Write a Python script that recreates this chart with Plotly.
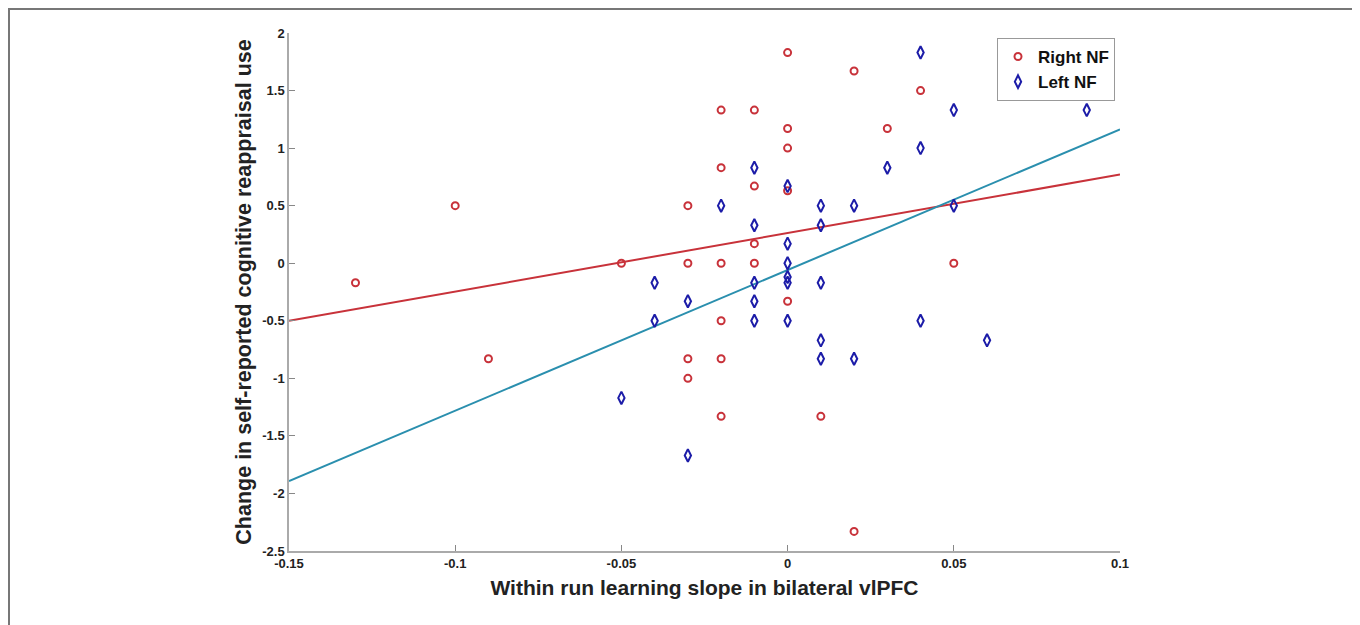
import plotly.graph_objects as go
import numpy as np

# Right NF (red circles)
right_x = [-0.13, -0.10, -0.09, -0.05, -0.03, -0.03, -0.03, -0.03, -0.02, -0.02, -0.02, -0.02, -0.02, -0.02,
           -0.01, -0.01, -0.01, -0.01, 0.00, 0.00, 0.00, 0.00, 0.00, 0.01, 0.02, 0.02, 0.03, 0.04, 0.05]
right_y = [-0.17, 0.50, -0.83, 0.00, 0.50, 0.00, -0.83, -1.00, 1.33, 0.83, 0.00, -0.50, -0.83, -1.33,
           1.33, 0.67, 0.17, 0.00, 1.83, 1.17, 1.00, 0.63, -0.33, -1.33, 1.67, -2.33, 1.17, 1.50, 0.00]

# Left NF (blue diamonds)
left_x = [-0.05, -0.04, -0.04, -0.03, -0.03, -0.02, -0.01, -0.01, -0.01, -0.01, -0.01,
          0.00, 0.00, 0.00, 0.00, 0.00, 0.00, 0.01, 0.01, 0.01, 0.01, 0.01, 0.02, 0.02,
          0.03, 0.04, 0.04, 0.04, 0.05, 0.05, 0.06, 0.09]
left_y = [-1.17, -0.17, -0.50, -0.33, -1.67, 0.50, 0.83, 0.33, -0.17, -0.33, -0.50,
          0.67, 0.17, 0.00, -0.12, -0.17, -0.50, 0.50, 0.33, -0.17, -0.67, -0.83, 0.50, -0.83,
          0.83, 1.83, 1.00, -0.50, 1.33, 0.50, -0.67, 1.33]

# Fitted regression lines (slope, intercept)
right_fit = (5.08, 0.262)
left_fit = (12.22, -0.059)

x_range = [-0.15, 0.1]
y_range = [-2.5, 2]
x_ticks = [-0.15, -0.1, -0.05, 0, 0.05, 0.1]
x_tick_labels = ["-0.15", "-0.1", "-0.05", "0", "0.05", "0.1"]
y_ticks = [-2.5, -2, -1.5, -1, -0.5, 0, 0.5, 1, 1.5, 2]
y_tick_labels = ["-2.5", "-2", "-1.5", "-1", "-0.5", "0", "0.5", "1", "1.5", "2"]

RED = "#c8323a"
BLUE = "#1c1ca8"
TEAL = "#2a8fae"
FONT = "Liberation Sans, Arial, sans-serif"

# page body has an 8px margin: figure is placed at (8, 8)
W, H = 1352, 617
L, T, PW, PH = 281, 25, 831, 518

fx = np.array(x_range)
fig = go.Figure()
fig.add_trace(go.Scatter(x=fx, y=right_fit[0] * fx + right_fit[1], mode="lines",
                         line=dict(color=RED, width=2), showlegend=False, hoverinfo="skip"))
fig.add_trace(go.Scatter(x=fx, y=left_fit[0] * fx + left_fit[1], mode="lines",
                         line=dict(color=TEAL, width=2), showlegend=False, hoverinfo="skip"))
fig.add_trace(go.Scatter(x=right_x, y=right_y, mode="markers", name="Right NF",
                         marker=dict(symbol="circle-open", size=7, color=RED, line=dict(width=2))))
fig.add_trace(go.Scatter(x=left_x, y=left_y, mode="markers", name="Left NF",
                         marker=dict(symbol="diamond-tall-open", size=9, color=BLUE, line=dict(width=2))))

axis_common = dict(showgrid=False, zeroline=False, showline=True, linecolor="#aaaaaa", linewidth=1.5,
                   ticks="inside", ticklen=6, tickcolor="#888888", tickwidth=1,
                   tickfont=dict(family=FONT, size=13, color="#222222", weight="bold"))

fig.update_layout(
    width=W, height=H,
    margin=dict(l=L, r=W - L - PW, t=T, b=H - T - PH),
    paper_bgcolor="white", plot_bgcolor="white",
    xaxis=dict(range=x_range, tickvals=x_ticks, ticktext=x_tick_labels,
               title=dict(text="Within run learning slope in bilateral vlPFC",
                          font=dict(family=FONT, size=21, color="#222222", weight="bold"), standoff=10),
               **axis_common),
    yaxis=dict(range=y_range, tickvals=y_ticks, ticktext=y_tick_labels,
               title=dict(text="Change in self-reported cognitive reappraisal use",
                          font=dict(family=FONT, size=21.5, color="#222222", weight="bold"), standoff=5),
               **axis_common),
    legend=dict(x=(997 - 8 - L) / PW, y=1 - (38 - 8 - T) / PH, xanchor="left", yanchor="top",
                bgcolor="white", bordercolor="#999999", borderwidth=1,
                font=dict(family=FONT, size=17, color="#111111", weight="bold"),
                itemwidth=30, tracegroupgap=0),
    shapes=[dict(type="rect", xref="paper", yref="paper",
                 x0=(1 - L) / PW, x1=(1347 - L) / PW,
                 y0=(T + PH - 640) / PH, y1=(T + PH - 1) / PH,
                 line=dict(color="#777777", width=2), fillcolor="rgba(0,0,0,0)", layer="below")],
)

fig.write_html("out.html")
